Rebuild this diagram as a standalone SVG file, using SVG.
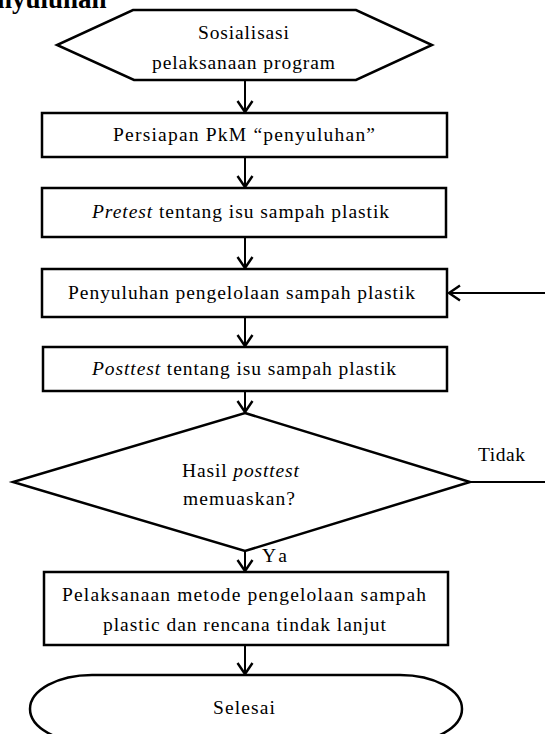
<svg xmlns="http://www.w3.org/2000/svg" width="545" height="734" viewBox="0 0 545 734">
<style>
  .shape { fill: #ffffff; stroke: #000000; stroke-width: 2.5; }
  .conn { fill: none; stroke: #000000; stroke-width: 2; }
  .t { font-family: "Liberation Serif", "Times New Roman", serif; font-size: 19.5px; fill: #000000; }
  .c { text-anchor: middle; }
  .h { font-family: "Liberation Serif", "Times New Roman", serif; font-size: 27px; font-weight: bold; fill: #000000; }
</style>
<defs>
  <marker id="arr" markerUnits="userSpaceOnUse" markerWidth="20" markerHeight="20" refX="12" refY="8" orient="auto" viewBox="0 0 20 16">
    <path d="M1,0.5 L12,8 L1,15.5" fill="none" stroke="#000000" stroke-width="2.4"/>
  </marker>
</defs>
<rect width="545" height="734" fill="#ffffff"/>
<text class="h" x="-3" y="8">nyuluhan</text>

<g id="connectors">
  <line class="conn" x1="245" y1="80" x2="245" y2="112" marker-end="url(#arr)"/>
  <line class="conn" x1="245" y1="157" x2="245" y2="187" marker-end="url(#arr)"/>
  <line class="conn" x1="245" y1="237" x2="245" y2="268" marker-end="url(#arr)"/>
  <line class="conn" x1="245" y1="317" x2="245" y2="346" marker-end="url(#arr)"/>
  <line class="conn" x1="245" y1="391" x2="245" y2="412" marker-end="url(#arr)"/>
  <line class="conn" x1="245" y1="551" x2="245" y2="571" marker-end="url(#arr)"/>
  <line class="conn" x1="245" y1="645" x2="245" y2="674" marker-end="url(#arr)"/>
  <line class="conn" x1="545" y1="293" x2="449" y2="293" marker-end="url(#arr)"/>
  <line class="conn" x1="470" y1="482" x2="545" y2="482"/>
  <text class="t" x="478" y="461" textLength="47" lengthAdjust="spacing">Tidak</text>
  <text class="t" x="262" y="562" textLength="25" lengthAdjust="spacing">Ya</text>
</g>

<g id="start">
  <polygon class="shape" points="133,10 356,10 432,45 356,80 134,80 57,45"/>
  <text class="t c" x="243.5" y="39" textLength="91" lengthAdjust="spacing">Sosialisasi</text>
  <text class="t c" x="243.5" y="69" textLength="183" lengthAdjust="spacing">pelaksanaan program</text>
</g>

<g id="persiapan">
  <rect class="shape" x="42" y="113" width="405" height="44"/>
  <text class="t c" x="244" y="141" textLength="262" lengthAdjust="spacing">Persiapan PkM “penyuluhan”</text>
</g>

<g id="pretest">
  <rect class="shape" x="42" y="188" width="404" height="49"/>
  <text class="t c" x="240.5" y="218" textLength="297" lengthAdjust="spacing"><tspan font-style="italic">Pretest</tspan> tentang isu sampah plastik</text>
</g>

<g id="penyuluhan">
  <rect class="shape" x="42" y="269" width="405" height="48"/>
  <text class="t c" x="241.5" y="299" textLength="347" lengthAdjust="spacing">Penyuluhan pengelolaan sampah plastik</text>
</g>

<g id="posttest">
  <rect class="shape" x="43" y="347" width="404" height="44"/>
  <text class="t c" x="244" y="375" textLength="304" lengthAdjust="spacing"><tspan font-style="italic">Posttest</tspan> tentang isu sampah plastik</text>
</g>

<g id="decision">
  <polygon class="shape" points="245,413 470,482 245,551 13,482"/>
  <text class="t c" x="240.5" y="477" textLength="117" lengthAdjust="spacing">Hasil <tspan font-style="italic">posttest</tspan></text>
  <text class="t c" x="239" y="505" textLength="112" lengthAdjust="spacing">memuaskan?</text>
</g>

<g id="pelaksanaan">
  <rect class="shape" x="44" y="572" width="404" height="73"/>
  <text class="t c" x="244" y="601" textLength="364" lengthAdjust="spacing">Pelaksanaan metode pengelolaan sampah</text>
  <text class="t c" x="244.5" y="631" textLength="283" lengthAdjust="spacing">plastic dan rencana tindak lanjut</text>
</g>

<g id="selesai">
  <rect class="shape" x="30" y="675" width="432" height="68" rx="62" ry="34"/>
  <text class="t c" x="244" y="714" textLength="62" lengthAdjust="spacing">Selesai</text>
</g>
</svg>
